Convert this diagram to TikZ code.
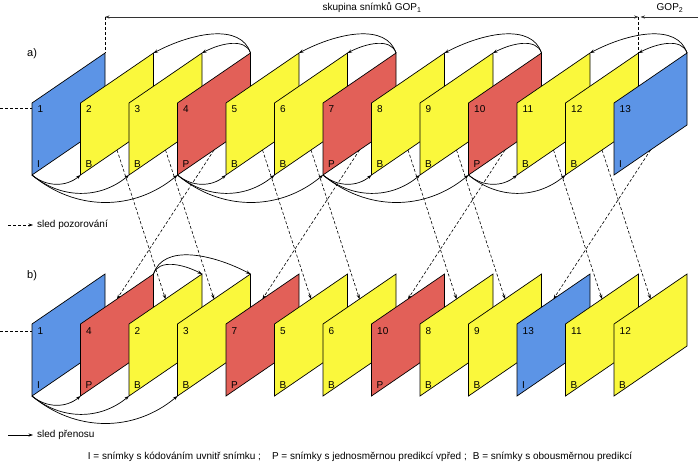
\documentclass[tikz,border=0pt]{standalone}
\usepackage{fontspec}
\setmainfont{Liberation Sans}
\usetikzlibrary{arrows.meta}
\definecolor{fblue}{RGB}{92,148,230}
\definecolor{fyel}{RGB}{250,248,60}
\definecolor{fred}{RGB}{226,96,88}
\begin{document}
\begin{tikzpicture}[x=1pt,y=-1pt,
  frame/.style={draw=black, line width=0.7pt, line join=miter},
  arr/.style={-{Stealth[length=4.5pt,width=3.2pt]}, line width=0.7pt},
  barr/.style={{Stealth[length=4.5pt,width=3.2pt]}-{Stealth[length=4.5pt,width=3.2pt]}, line width=0.6pt, draw=black!80},
  darr/.style={-{Stealth[length=4.5pt,width=3.2pt]}, line width=0.6pt, dash pattern=on 3pt off 2pt},
  dline/.style={line width=0.6pt, dash pattern=on 3pt off 2pt},
  lab/.style={font=\fontsize{10}{12}\selectfont, inner sep=0pt, anchor=west},
  txt/.style={font=\fontsize{10}{12}\selectfont, inner sep=0pt}]
\useasboundingbox (0,0) rectangle (700,469);

% continuation lines
\coordinate (ca0) at (0,108);
\coordinate (ca1) at (32,108);
\coordinate (cb0) at (0,331);
\coordinate (cb1) at (32,331);
\draw[dline] (ca0) -- (ca1);
\draw[dline] (cb0) -- (cb1);

% row a frames (observation order)
\foreach \n/\t/\c [count=\i from 0] in {1/I/fblue,2/B/fyel,3/B/fyel,4/P/fred,5/B/fyel,6/B/fyel,7/P/fred,8/B/fyel,9/B/fyel,10/P/fred,11/B/fyel,12/B/fyel,13/I/fblue}{
  \pgfmathsetmacro\x{32+48.5*\i}
  \coordinate (a\n-bl) at (\x,175);
  \coordinate (a\n-tl) at (\x,103);
  \coordinate (a\n-tr) at (\x+73,53);
  \coordinate (a\n-br) at (\x+73,125);
  \coordinate (a\n-bm) at (\x+36.5,150);
  \filldraw[frame, fill=\c] (a\n-bl) -- (a\n-tl) -- (a\n-tr) -- (a\n-br) -- cycle;
  \node[lab] (an\n) at (\x+5.5,109) {\n};
  \node[lab] (at\n) at (\x+5,164) {\t};
}

% row b frames (transmission order)
\foreach \n/\t/\c [count=\i from 0] in {1/I/fblue,4/P/fred,2/B/fyel,3/B/fyel,7/P/fred,5/B/fyel,6/B/fyel,10/P/fred,8/B/fyel,9/B/fyel,13/I/fblue,11/B/fyel,12/B/fyel}{
  \pgfmathsetmacro\x{32+48.5*\i}
  \coordinate (b\n-bl) at (\x,396);
  \coordinate (b\n-tl) at (\x,324);
  \coordinate (b\n-tr) at (\x+73,274);
  \coordinate (b\n-br) at (\x+73,346);
  \coordinate (b\n-tm) at (\x+36.5,299);
  \filldraw[frame, fill=\c] (b\n-bl) -- (b\n-tl) -- (b\n-tr) -- (b\n-br) -- cycle;
  \node[lab] (bn\n) at (\x+5.5,331) {\n};
  \node[lab] (bt\n) at (\x+5,385) {\t};
}

% dashed reorder arrows
\foreach \k in {2,...,13}{
  \draw[darr] (a\k-bm) -- (b\k-tm);
}

% row a: bottom arcs (forward prediction)
\foreach \s/\t/\d in {1/2/48.5,1/3/97,1/4/145.5,4/5/48.5,4/6/97,4/7/145.5,7/8/48.5,7/9/97,7/10/145.5,10/11/48.5,10/12/97}{
  \draw[arr] (a\s-bl) .. controls +({0.3*\d},{0.25*\d}) and +({-0.3*\d},{0.25*\d}) .. (a\t-bl);
}
% row a: top arcs (backward prediction)
\foreach \s/\t/\d in {4/2/97,4/3/48.5,7/5/97,7/6/48.5,10/8/97,10/9/48.5,13/11/97,13/12/48.5}{
  \draw[arr] (a\s-tr) .. controls +({-0.1*\d},{-0.31*\d}) and +({0.4*\d},{-0.21*\d}) .. (a\t-tr);
}

% row b arcs
\foreach \t/\d in {4/48.5,2/97,3/145.5}{
  \draw[arr] (b1-bl) .. controls +({0.3*\d},{0.25*\d}) and +({-0.3*\d},{0.25*\d}) .. (b\t-bl);
}
\foreach \t/\d in {2/48.5,3/97}{
  \draw[arr] (b4-tr) .. controls +({0.1*\d},{-0.31*\d}) and +({-0.4*\d},{-0.21*\d}) .. (b\t-tr);
}

% GOP markers
\coordinate (g1) at (a1-tr |- 0,17);
\coordinate (g2) at (a12-tr |- 0,17);
\coordinate (g2b) at ([xshift=2pt]g2);
\coordinate (g3) at (698,17);
\draw[barr] (g1) -- (g2);
\draw[arr, line width=0.6pt, draw=black!80] (g3) -- (g2b);
\draw[dline] (g1) -- (a1-tr);
\draw[dline] (g2) -- (a12-tr);
\node[txt] (gop1) at (372,8) {skupina snímků GOP\textsubscript{1}};
\node[txt] (gop2) at (670,8) {GOP\textsubscript{2}};

% row labels
\node[lab, font=\fontsize{11}{13}\selectfont] (la) at (27,54) {a)};
\node[lab, font=\fontsize{11}{13}\selectfont] (lb) at (27,276) {b)};

% legends
\coordinate (lp1) at (8,225);
\coordinate (lp2) at (33,225);
\draw[darr] (lp1) -- (lp2);
\node[lab] (lpt) at (37,225) {sled pozorování};
\coordinate (lt1) at (8,435);
\coordinate (lt2) at (33,435);
\draw[arr] (lt1) -- (lt2);
\node[lab] (ltt) at (37,435) {sled přenosu};
\node[txt] (legend) at (360,457) {I = snímky s kódováním uvnitř snímku ;\hspace{1.1em}P = snímky s jednosměrnou predikcí vpřed ;\hspace{0.6em}B = snímky s obousměrnou predikcí};
\end{tikzpicture}
\end{document}
